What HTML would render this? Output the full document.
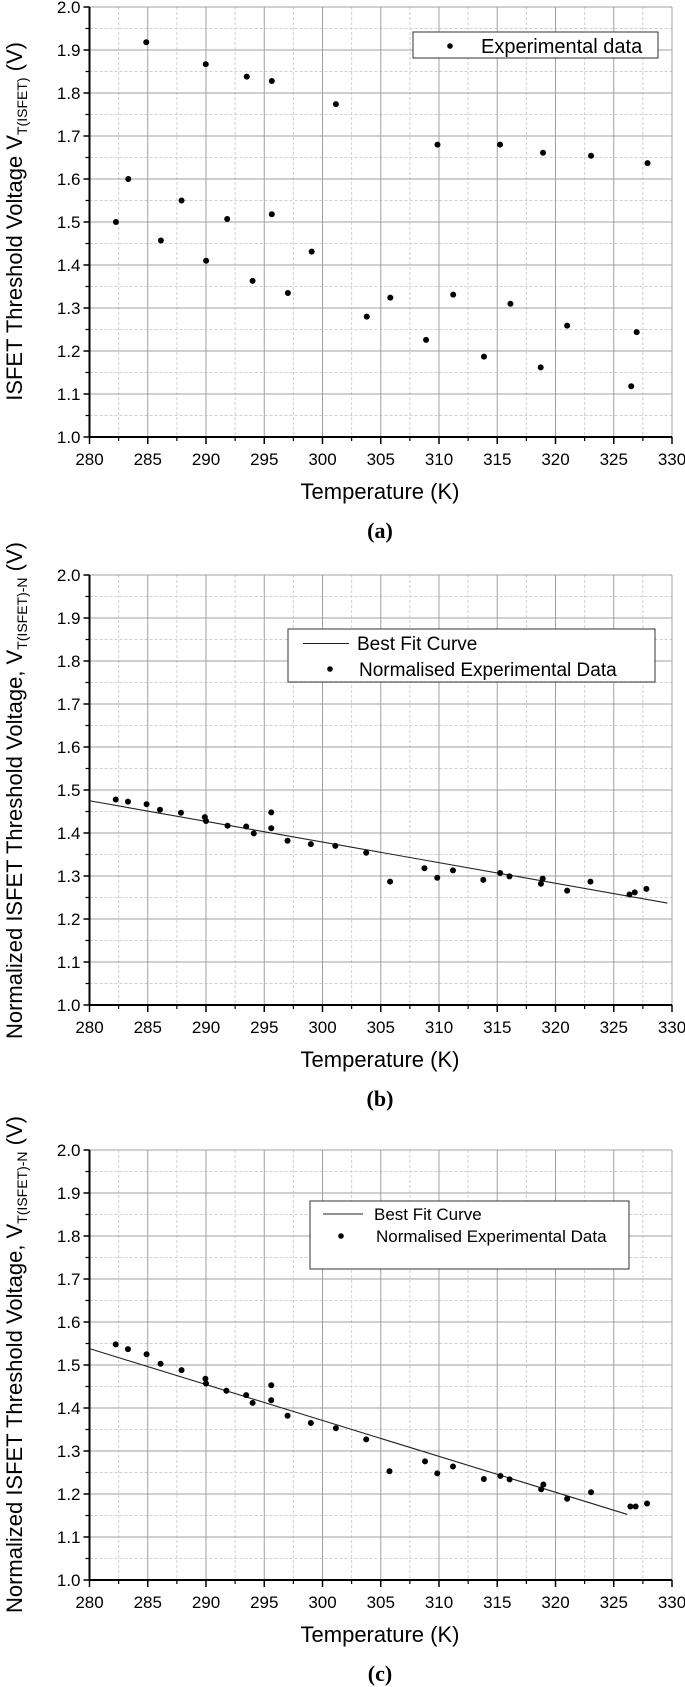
<!DOCTYPE html>
<html><head><meta charset="utf-8"><style>
html,body{margin:0;padding:0;background:#fff;}
svg{display:block;font-family:"Liberation Sans",sans-serif;}
</style></head><body>
<svg id="fig" width="685" height="1687" viewBox="0 0 685 1687"></svg>
<script>
// ---- data ----
const xTicks = [280,285,290,295,300,305,310,315,320,325,330];
const yTicks = [1.0,1.1,1.2,1.3,1.4,1.5,1.6,1.7,1.8,1.9,2.0];
const tempA = [282.27,283.33,284.87,286.13,287.9,289.98,290.01,291.82,293.5,294.0,295.65,295.65,297.03,299.07,301.15,303.8,305.82,308.89,309.87,311.22,313.86,315.24,316.13,318.73,318.93,321.0,323.05,326.5,326.97,327.9];
const voltA = [1.500,1.600,1.918,1.457,1.550,1.867,1.410,1.507,1.838,1.363,1.828,1.518,1.335,1.431,1.774,1.280,1.324,1.226,1.680,1.331,1.187,1.680,1.310,1.162,1.661,1.259,1.654,1.118,1.244,1.637];
const tempB = [282.25,283.3,284.9,286.05,287.85,289.9,290.0,291.85,293.45,294.1,295.6,295.6,297.0,299.0,301.1,303.75,305.8,308.75,309.85,311.2,313.8,315.25,316.05,318.75,318.9,321.0,323.0,326.35,326.8,327.8];
const voltB = [1.478,1.473,1.467,1.454,1.447,1.437,1.428,1.417,1.415,1.399,1.448,1.411,1.382,1.374,1.370,1.354,1.287,1.318,1.296,1.313,1.291,1.307,1.299,1.282,1.294,1.266,1.287,1.257,1.262,1.270];
const fitBT = [280,329.6];
const fitBV = [1.475,1.237];
const tempC = [282.25,283.3,284.9,286.1,287.9,289.95,290.0,291.75,293.45,294.0,295.6,295.6,297.0,299.0,301.15,303.75,305.75,308.8,309.85,311.2,313.85,315.27,316.06,318.77,318.96,321.0,323.05,326.43,326.88,327.86];
const voltC = [1.548,1.537,1.525,1.503,1.488,1.468,1.457,1.440,1.430,1.412,1.453,1.418,1.382,1.365,1.353,1.327,1.253,1.276,1.248,1.264,1.235,1.242,1.234,1.211,1.222,1.189,1.204,1.171,1.171,1.178];
const fitCT = [280,326.17];
const fitCV = [1.538,1.1525];

const NS="http://www.w3.org/2000/svg";
const svg=document.getElementById('fig');
function mk(tag,attrs,parent){const e=document.createElementNS(NS,tag);for(const k in attrs)e.setAttribute(k,attrs[k]);(parent||svg).appendChild(e);return e;}

function panel(id,top,temps,volts,fitT,fitV,leg){
  const g=mk('g',{});
  
  
  const L=89.5,R=672,T=top,B=top+430;
  const sx=t=>L+(t-280)/50*(R-L);
  const sy=v=>B-(v-1)/1*(B-T);
  // minor grid
  for(let i=0;i<20;i++){const t=281+0*i;}
  for(let k=0;k<10;k++){
    const t=282.5+5*k, x=sx(t);
    const l=mk('line',{x1:x,y1:T,x2:x,y2:B,stroke:'#d0d0d0','stroke-width':1,'stroke-dasharray':'3,2'},g);
    
    
    const v=1.05+0.1*k, y=sy(v);
    const l2=mk('line',{x1:L,y1:y,x2:R,y2:y,stroke:'#d0d0d0','stroke-width':1,'stroke-dasharray':'3,2'},g);
    
    
  }
  xTicks.forEach(t=>{
    const x=sx(t);
    if(t>280){const l=mk('line',{x1:x,y1:T,x2:x,y2:B,stroke:'#a0a0a0','stroke-width':1},g);
    
    }
    const tk=mk('line',{x1:x,y1:B,x2:x,y2:B+7,stroke:'#000','stroke-width':1.5},g);
    
    
    const mt=mk('line',{x1:sx(t+2.5),y1:B,x2:sx(t+2.5),y2:B+4,stroke:'#000','stroke-width':1.2},g);
    if(t===330)mt.remove();
    
    
    const tx=mk('text',{x:x,y:B+28,'font-size':17,'text-anchor':'middle',fill:'#000'},g);
    tx.textContent=t;
    
    
  });
  yTicks.forEach(v=>{
    const y=sy(v);
    if(v>1.0){const l=mk('line',{x1:L,y1:y,x2:R,y2:y,stroke:'#a0a0a0','stroke-width':1},g);
    
    }
    const tk=mk('line',{x1:L-6,y1:y,x2:L,y2:y,stroke:'#000','stroke-width':1.5},g);
    
    
    if(v<2.0){const mt=mk('line',{x1:L-4,y1:sy(v+0.05),x2:L,y2:sy(v+0.05),stroke:'#000','stroke-width':1.2},g);
    
    }
    const tx=mk('text',{x:L-9,y:y+6,'font-size':17,'text-anchor':'end',fill:'#000'},g);
    tx.textContent=v.toFixed(1);
    
    
  });
  const ax=mk('line',{x1:L,y1:B,x2:R,y2:B,stroke:'#000','stroke-width':2},g);
  
  
  const ay=mk('line',{x1:L,y1:T,x2:L,y2:B,stroke:'#000','stroke-width':2},g);
  
  
  if(fitT){
    const fl=mk('line',{x1:sx(fitT[0]),y1:sy(fitV[0]),x2:sx(fitT[1]),y2:sy(fitV[1]),stroke:'#222','stroke-width':1.1},g);
    
    
  }
  temps.forEach((t,i)=>{
    const c=mk('circle',{cx:sx(t),cy:sy(volts[i]),r:3,fill:'#000'},g);
    
    
  });
  const xt=mk('text',{x:380,y:B+62,'font-size':22,'text-anchor':'middle',fill:'#000'},g);
  xt.textContent='Temperature (K)';
  
  
  const cap=mk('text',{x:380,y:B+101,'font-size':22,'font-weight':'bold','font-family':'Liberation Serif, serif','text-anchor':'middle',fill:'#000'},g);
  cap.textContent='('+id+')';
  
  
  // legend
  const lb=mk('rect',{x:leg.x,y:leg.y,width:leg.w,height:leg.h,fill:'#fff',stroke:'#333','stroke-width':1},g);
  
  
  leg.items.forEach(it=>{
    if(it.line){const s=mk('line',{x1:it.lx1,y1:it.ly,x2:it.lx2,y2:it.ly,stroke:'#222','stroke-width':1},g);
      
      }
    else {const s=mk('circle',{cx:it.dx,cy:it.ly,r:2.8,fill:'#000'},g);
      
      }
    const t=mk('text',{x:it.tx,y:it.ty,'font-size':leg.fs,fill:'#000'},g);
    t.textContent=it.text;
    
    
  });
}

panel('a',7,tempA,voltA,null,null,{x:413,y:32,w:245,h:26,fs:20,items:[{dx:450,ly:46,tx:481,ty:53,text:'Experimental data'}]});
panel('b',575,tempB,voltB,fitBT,fitBV,{x:288,y:629,w:367,h:53,fs:19,items:[
  {line:true,lx1:303,lx2:349,ly:643.5,tx:357,ty:650,text:'Best Fit Curve'},
  {dx:330,ly:669,tx:359,ty:676,text:'Normalised Experimental Data'}]});
panel('c',1150,tempC,voltC,fitCT,fitCV,{x:310,y:1201,w:319,h:68,fs:17,items:[
  {line:true,lx1:323,lx2:363,ly:1214,tx:374,ty:1220,text:'Best Fit Curve'},
  {dx:341,ly:1236,tx:376,ty:1242,text:'Normalised Experimental Data'}]});

// y axis titles
function ytitle(name,x,yEnd,main,sub,tail){
  const t=mk('text',{transform:'translate('+x+','+yEnd+') rotate(-90)','font-size':22,'text-anchor':'end',fill:'#000'});
  
  
  const a=mk('tspan',{},t);a.textContent=main;
  const b=mk('tspan',{'font-size':14,dy:5},t);b.textContent=sub;
  const c=mk('tspan',{dy:-5},t);c.textContent=tail;
}
ytitle('y-axis-title-a',22,42,'ISFET Threshold Voltage V','T(ISFET)',' (V)');
ytitle('y-axis-title-b',22,542,'Normalized ISFET Threshold Voltage, V','T(ISFET)-N',' (V)');
ytitle('y-axis-title-c',22,1116,'Normalized ISFET Threshold Voltage, V','T(ISFET)-N',' (V)');
</script>
</body></html>
